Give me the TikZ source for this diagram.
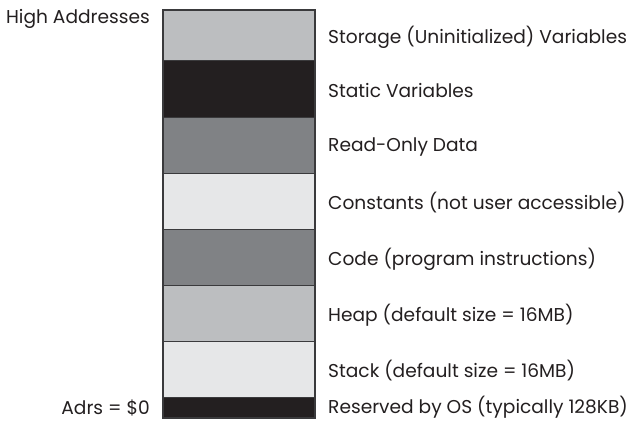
\documentclass[tikz,border=0pt]{standalone}
\usepackage{fontspec}
\setmainfont{Poppins}
\usetikzlibrary{positioning}
\definecolor{bandlight}{HTML}{BCBEC0}
\definecolor{bandpale}{HTML}{E6E7E8}
\definecolor{bandmid}{HTML}{808285}
\definecolor{banddark}{HTML}{231F20}
\definecolor{bandline}{HTML}{3A3A3C}
\begin{document}
\begin{tikzpicture}[x=1pt,y=-1pt,
    band/.style={draw=bandline,line width=0.8pt,minimum width=152pt,
      inner sep=0pt,outer sep=0pt},
    lbl/.style={inner sep=0pt,font=\fontsize{18.6}{22}\selectfont,text=banddark}]
      \useasboundingbox (0,0) rectangle (635,422);

      % memory bands, top to bottom
      \node[band,fill=bandlight,minimum height=50pt,anchor=north west] (stor) at (163,10) {};
      \node[band,fill=banddark,minimum height=57pt,below=0pt of stor] (stat) {};
      \node[band,fill=bandmid,minimum height=56pt,below=0pt of stat] (rodata) {};
      \node[band,fill=bandpale,minimum height=56pt,below=0pt of rodata] (const) {};
      \node[band,fill=bandmid,minimum height=56pt,below=0pt of const] (code) {};
      \node[band,fill=bandlight,minimum height=56pt,below=0pt of code] (heap) {};
      \node[band,fill=bandpale,minimum height=56pt,below=0pt of heap] (stack) {};
      \node[band,fill=banddark,minimum height=21pt,below=0pt of stack] (resv) {};

      % outer frame
      \draw[bandline,line width=1.4pt] (stor.north west) rectangle (resv.south east);

      % labels on the right
      \node[lbl,right=13pt of stor,yshift=-2pt] (storlbl) {Storage (Uninitialized) Variables};
      \node[lbl,right=13pt of stat,yshift=-2pt] (statlbl) {Static Variables};
      \node[lbl,right=13pt of rodata,yshift=-2pt] (rodatalbl) {Read-Only Data};
      \node[lbl,right=13pt of const,yshift=-2pt] (constlbl) {Constants (not user accessible)};
      \node[lbl,right=13pt of code,yshift=-2pt] (codelbl) {Code (program instructions)};
      \node[lbl,right=13pt of heap,yshift=-2pt] (heaplbl) {Heap (default size = 16MB)};
      \node[lbl,right=13pt of stack,yshift=-2pt] (stacklbl) {Stack (default size = 16MB)};
      \node[lbl,right=13pt of resv] (resvlbl) {Reserved by OS (typically 128KB)};

      % address marks on the left
      \node[lbl,anchor=north east] (high) at (150,9) {High Addresses};
      \node[lbl,left=13pt of resv] (low) {Adrs = \$0};
\end{tikzpicture}
\end{document}
